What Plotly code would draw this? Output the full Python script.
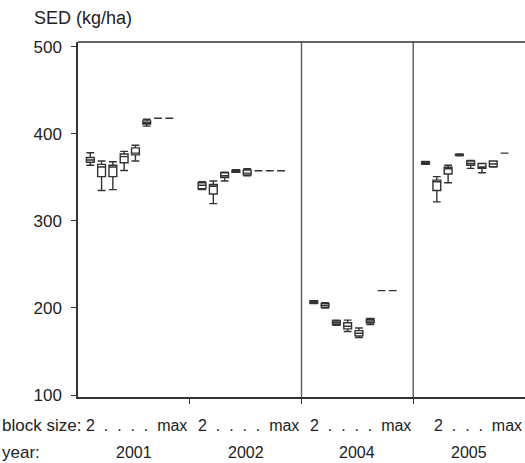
import plotly.graph_objects as go

years = ["2001", "2002", "2004", "2005"]
block_label = "2\u00a0\u00a0.\u00a0\u00a0.\u00a0\u00a0.\u00a0\u00a0.\u00a0\u00a0max"
block_label_last = "2\u00a0\u00a0.\u00a0\u00a0.\u00a0\u00a0.\u00a0\u00a0max"

# per year: lower whisker, q1, median, q3, upper whisker for block sizes 2..max (8 each)
lo_2001 = [364, 335, 336, 358, 369, 409, 418, 418]
q1_2001 = [367.5, 351, 351, 367, 376, 411.5, 418, 418]
md_2001 = [370, 362, 362, 374, 378, 413, 418, 418]
q3_2001 = [373, 365, 364, 377, 384, 415, 418, 418]
hi_2001 = [378.5, 369, 368, 380, 387, 417, 418, 418]

lo_2002 = [336, 320, 346, 356, 352, 357.8, 357.8, 357.8]
q1_2002 = [337, 331, 350, 356, 353, 357.8, 357.8, 357.8]
md_2002 = [341, 340, 352, 357, 355, 357.8, 357.8, 357.8]
q3_2002 = [344, 342, 355.5, 358.5, 358.5, 357.8, 357.8, 357.8]
hi_2002 = [345, 346, 356, 359, 360, 357.8, 357.8, 357.8]

lo_2004 = [205, 200, 180, 173, 166, 181, 220, 220]
q1_2004 = [205.5, 201, 181, 176, 168, 183, 220, 220]
md_2004 = [207, 203, 183, 179, 171, 185, 220, 220]
q3_2004 = [208, 205, 185, 183, 174, 187, 220, 220]
hi_2004 = [208.5, 206, 186, 186, 177, 188, 220, 220]

lo_2005 = [365, 322, 344, 375, 360.5, 355.5, 362, 378]
q1_2005 = [365.5, 335, 354, 375.5, 364, 360.5, 362.5, 378]
md_2005 = [366.5, 345, 360, 376, 366, 362, 365.5, 378]
q3_2005 = [368, 347, 361.7, 376.5, 369, 366, 369, 378]
hi_2005 = [368.5, 351, 364, 377, 369.5, 366, 369, 378]

data = {
    "2001": (lo_2001, q1_2001, md_2001, q3_2001, hi_2001),
    "2002": (lo_2002, q1_2002, md_2002, q3_2002, hi_2002),
    "2004": (lo_2004, q1_2004, md_2004, q3_2004, hi_2004),
    "2005": (lo_2005, q1_2005, md_2005, q3_2005, hi_2005),
}

y_ticks = [100, 200, 300, 400, 500]

FONT = "Liberation Sans, Arial, sans-serif"
TXT = "#222222"
LINE = "#333333"

fig = go.Figure()
for g, yr in enumerate(years):
    lo, q1, md, q3, hi = data[yr]
    for i in range(len(lo)):
        pos = g * 10 + 1.1 + i * 1.01
        fig.add_trace(go.Box(
            x=[pos], lowerfence=[lo[i]], q1=[q1[i]], median=[md[i]],
            q3=[q3[i]], upperfence=[hi[i]],
            width=0.7, whiskerwidth=1,
            fillcolor="white", line=dict(color=LINE, width=1.4),
            boxpoints=False, showlegend=False, hoverinfo="skip",
        ))

for xv in [20, 30]:
    fig.add_shape(type="line", x0=xv, x1=xv, y0=0, y1=1, xref="x", yref="paper",
                  line=dict(color="#666666", width=1.5))

annotations = [
    dict(text="SED (kg/ha)", x=-0.103, y=1.068, xref="paper", yref="paper",
         xanchor="left", yanchor="middle", showarrow=False, font=dict(size=18, family=FONT, color=TXT)),
    dict(text="block size:", x=-0.1745, y=-0.079, xref="paper", yref="paper",
         xanchor="left", yanchor="middle", showarrow=False, font=dict(size=17, family=FONT, color=TXT)),
    dict(text="year:", x=-0.1745, y=-0.155, xref="paper", yref="paper",
         xanchor="left", yanchor="middle", showarrow=False, font=dict(size=17, family=FONT, color=TXT)),
]
for g, yr in enumerate(years):
    lab = block_label_last if g == len(years) - 1 else block_label
    annotations.append(dict(text=lab, x=g * 10 + 10 - 0.05, y=-0.079, xref="x", yref="paper",
                            xanchor="right", yanchor="middle", showarrow=False,
                            font=dict(size=16, family=FONT, color=TXT)))
    annotations.append(dict(text=yr, x=g * 10 + 5, y=-0.155, xref="x", yref="paper",
                            xanchor="center", yanchor="middle", showarrow=False,
                            font=dict(size=16, family=FONT, color=TXT)))

fig.update_layout(
    width=525, height=463,
    margin=dict(l=78, r=0, t=42, b=66),
    paper_bgcolor="white", plot_bgcolor="white",
    annotations=annotations,
    font=dict(family=FONT, size=16, color=TXT),
    xaxis=dict(range=[0, 40], tickvals=[10, 20, 30], ticktext=["", "", ""],
               ticks="outside", ticklen=5, tickcolor=LINE, showline=True, linecolor=LINE,
               linewidth=1.5, mirror=False, showgrid=False, zeroline=False),
    yaxis=dict(range=[97.7, 505.7], tickvals=y_ticks, ticks="outside", ticklen=5,
               tickcolor=LINE, showline=True, linecolor=LINE, linewidth=1.5,
               ticklabelstandoff=6,
               showgrid=False, zeroline=False, tickfont=dict(size=17, family=FONT, color=TXT)),
)
fig.add_shape(type="line", x0=0, x1=1, y0=1, y1=1, xref="paper", yref="paper",
              line=dict(color=LINE, width=1.5))

fig.write_html("out.html", config={"displayModeBar": False},
               post_script="document.body.style.margin='0';")
